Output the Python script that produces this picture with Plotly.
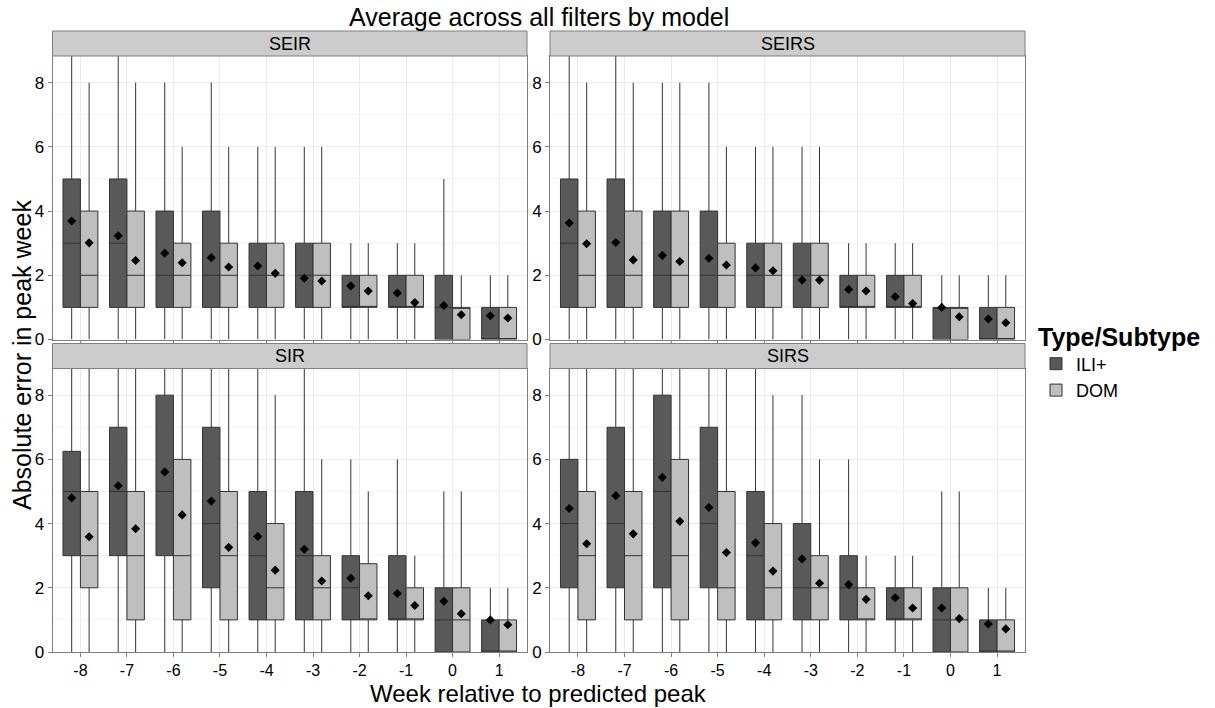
import plotly.graph_objects as go

weeks = [-8, -7, -6, -5, -4, -3, -2, -1, 0, 1]
models = ["SEIR", "SEIRS", "SIR", "SIRS"]
groups = ["ILI+", "DOM"]

# per model, per group: q1, median, q3, lower whisker, upper whisker, mean
stats = {
    "SEIR": {
        "ILI+": dict(q1=[1, 1, 1, 1, 1, 1, 1, 1, 0, 0],
                     med=[3, 3, 2, 2, 2, 2, 1, 1, 1, 0],
                     q3=[5, 5, 4, 4, 3, 3, 2, 2, 2, 1],
                     lo=[0, 0, 0, 0, 0, 0, 0, 0, 0, 0],
                     hi=[10, 10, 8, 8, 6, 6, 3, 3, 5, 2],
                     mean=[3.69, 3.23, 2.69, 2.55, 2.29, 1.91, 1.67, 1.45, 1.06, 0.74]),
        "DOM": dict(q1=[1, 1, 1, 1, 1, 1, 1, 1, 0, 0],
                    med=[2, 2, 2, 2, 2, 2, 1, 1, 1, 0],
                    q3=[4, 4, 3, 3, 3, 3, 2, 2, 1, 1],
                    lo=[0, 0, 0, 0, 0, 0, 0, 0, 0, 0],
                    hi=[8, 8, 6, 6, 6, 6, 3, 3, 2, 2],
                    mean=[3.01, 2.46, 2.39, 2.26, 2.06, 1.82, 1.51, 1.15, 0.77, 0.67]),
    },
    "SEIRS": {
        "ILI+": dict(q1=[1, 1, 1, 1, 1, 1, 1, 1, 0, 0],
                     med=[3, 2, 2, 2, 2, 2, 1, 1, 1, 0],
                     q3=[5, 5, 4, 4, 3, 3, 2, 2, 1, 1],
                     lo=[0, 0, 0, 0, 0, 0, 0, 0, 0, 0],
                     hi=[10, 10, 8, 8, 6, 6, 3, 3, 2, 2],
                     mean=[3.63, 3.02, 2.62, 2.53, 2.23, 1.85, 1.56, 1.33, 1.00, 0.64]),
        "DOM": dict(q1=[1, 1, 1, 1, 1, 1, 1, 1, 0, 0],
                    med=[2, 2, 2, 2, 2, 2, 1, 1, 1, 0],
                    q3=[4, 4, 4, 3, 3, 3, 2, 2, 1, 1],
                    lo=[0, 0, 0, 0, 0, 0, 0, 0, 0, 0],
                    hi=[8, 8, 8, 6, 6, 6, 3, 3, 2, 2],
                    mean=[2.98, 2.48, 2.43, 2.32, 2.14, 1.85, 1.51, 1.12, 0.71, 0.52]),
    },
    "SIR": {
        "ILI+": dict(q1=[3, 3, 3, 2, 1, 1, 1, 1, 0, 0],
                     med=[5, 5, 5, 4, 3, 3, 2, 1, 1, 0],
                     q3=[6.25, 7, 8, 7, 5, 5, 3, 3, 2, 1],
                     lo=[0, 0, 0, 0, 0, 0, 0, 0, 0, 0],
                     hi=[10, 10, 10, 10, 10, 10, 6, 6, 5, 2],
                     mean=[4.80, 5.18, 5.61, 4.70, 3.60, 3.20, 2.30, 1.82, 1.58, 1.00]),
        "DOM": dict(q1=[2, 1, 1, 1, 1, 1, 1, 1, 0, 0],
                    med=[3, 3, 3, 3, 2, 2, 1, 1, 1, 0],
                    q3=[5, 5, 6, 5, 4, 3, 2.75, 2, 2, 1],
                    lo=[0, 0, 0, 0, 0, 0, 0, 0, 0, 0],
                    hi=[10, 10, 10, 10, 8, 6, 5, 3, 5, 2],
                    mean=[3.59, 3.84, 4.27, 3.26, 2.55, 2.21, 1.75, 1.45, 1.19, 0.85]),
    },
    "SIRS": {
        "ILI+": dict(q1=[2, 2, 2, 2, 1, 1, 1, 1, 0, 0],
                     med=[4, 4, 5, 4, 3, 2, 2, 1, 1, 0],
                     q3=[6, 7, 8, 7, 5, 4, 3, 2, 2, 1],
                     lo=[0, 0, 0, 0, 0, 0, 0, 0, 0, 0],
                     hi=[10, 10, 10, 10, 10, 8, 6, 3, 5, 2],
                     mean=[4.47, 4.87, 5.44, 4.50, 3.40, 2.90, 2.10, 1.69, 1.37, 0.87]),
        "DOM": dict(q1=[1, 1, 1, 1, 1, 1, 1, 1, 0, 0],
                    med=[3, 3, 3, 2, 2, 2, 1, 1, 1, 0],
                    q3=[5, 5, 6, 5, 4, 3, 2, 2, 2, 1],
                    lo=[0, 0, 0, 0, 0, 0, 0, 0, 0, 0],
                    hi=[10, 10, 10, 10, 8, 6, 3, 3, 5, 2],
                    mean=[3.37, 3.68, 4.07, 3.10, 2.52, 2.14, 1.64, 1.37, 1.04, 0.72]),
    },
}

y_ticks = [0, 2, 4, 6, 8]

fill = {"ILI+": "#595959", "DOM": "#BFBFBF"}
BOX_W = 0.375
offset = {"ILI+": -BOX_W / 2, "DOM": BOX_W / 2}
FONT = "Liberation Sans, Arial, sans-serif"

W, H = 1215, 708
xdom = [(52.5 / W, 527 / W), (550 / W, 1025 / W)]
ydom = [(1 - 339.5 / H, 1 - 56 / H), (1 - 652 / H, 1 - 368.5 / H)]
strip_h = 25 / H

fig = go.Figure()

for i, m in enumerate(models):
    r, c = divmod(i, 2)
    ax = "" if i == 0 else str(i + 1)
    xref, yref = "x" + ax, "y" + ax
    for g in groups:
        s = stats[m][g]
        xs = [w + offset[g] for w in weeks]
        fig.add_trace(go.Box(
            x=xs, q1=s["q1"], median=s["med"], q3=s["q3"],
            lowerfence=s["lo"], upperfence=s["hi"],
            width=BOX_W, whiskerwidth=0, boxpoints=False,
            fillcolor=fill[g], line=dict(color="#333333", width=1),
            name=g, legendgroup=g, showlegend=(i == 0),
            xaxis=xref, yaxis=yref, hoverinfo="skip",
        ))
        fig.add_trace(go.Scatter(
            x=xs, y=s["mean"], mode="markers",
            marker=dict(symbol="diamond", size=7, color="black"),
            showlegend=False, xaxis=xref, yaxis=yref, hoverinfo="skip",
        ))
    xa = dict(domain=list(xdom[c]), range=[-8.6, 1.6], tickvals=weeks,
              ticktext=[str(w) for w in weeks], showticklabels=(r == 1),
              showgrid=True, gridcolor="#EBEBEB", gridwidth=1, zeroline=False,
              showline=True, linecolor="#7F7F7F", linewidth=1, mirror=True,
              ticks="outside", ticklen=4, tickcolor="#7F7F7F",
              tickfont=dict(size=16, color="black", family=FONT),
              automargin=False, anchor=yref)
    ya = dict(domain=list(ydom[r]), range=[0, 8.83], tickvals=y_ticks,
              showgrid=True, gridcolor="#EBEBEB", gridwidth=1, zeroline=False,
              showline=True, linecolor="#7F7F7F", linewidth=1, mirror=True,
              ticks="outside", ticklen=4, tickcolor="#7F7F7F",
              tickfont=dict(size=17, color="black", family=FONT),
              minor=dict(dtick=1, tick0=0, showgrid=True, gridcolor="#F5F5F5", ticks=""),
              automargin=False, anchor=xref)
    fig.layout["xaxis" + ax] = xa
    fig.layout["yaxis" + ax] = ya
    # strip
    x0, x1 = xdom[c]
    y1 = ydom[r][1]
    fig.add_shape(type="rect", xref="paper", yref="paper",
                  x0=x0, x1=x1, y0=y1, y1=y1 + strip_h,
                  fillcolor="#CCCCCC", line=dict(color="#7F7F7F", width=1))
    fig.add_annotation(x=(x0 + x1) / 2, y=y1 + strip_h / 2, xref="paper", yref="paper",
                       text=m, showarrow=False, xanchor="center", yanchor="middle",
                       font=dict(size=18, color="black", family=FONT))

cx = (xdom[0][0] + xdom[1][1]) / 2
fig.add_annotation(x=cx, y=1 - 17 / H, xref="paper", yref="paper",
                   text="Average across all filters by model", showarrow=False,
                   xanchor="center", yanchor="middle",
                   font=dict(size=25, color="black", family=FONT))
fig.add_annotation(x=cx, y=1 - 693 / H, xref="paper", yref="paper",
                   text="Week relative to predicted peak", showarrow=False,
                   xanchor="center", yanchor="middle",
                   font=dict(size=24, color="black", family=FONT))
fig.add_annotation(x=22 / W, y=1 - 355 / H, xref="paper", yref="paper",
                   text="Absolute error in peak week", showarrow=False, textangle=-90,
                   xanchor="center", yanchor="middle",
                   font=dict(size=25, color="black", family=FONT))

fig.update_layout(
    width=W, height=H, margin=dict(l=0, r=0, t=0, b=0, autoexpand=False),
    paper_bgcolor="white", plot_bgcolor="white",
    boxmode="overlay",
    font=dict(family=FONT, color="black"),
    legend=dict(x=1036 / W, y=1 - 313 / H, xanchor="left", yanchor="top",
                title=dict(text="<b>Type/Subtype</b>", font=dict(size=25, family=FONT)),
                font=dict(size=18, family=FONT), bgcolor="rgba(0,0,0,0)",
                tracegroupgap=0, itemwidth=30),
)

fig.write_html("out.html", config={"displayModeBar": False},
               post_script="document.body.style.margin='0px';document.body.style.overflow='hidden';")
